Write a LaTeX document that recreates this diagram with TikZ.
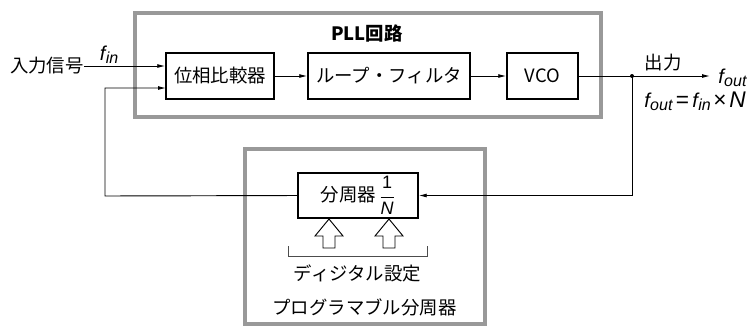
\documentclass[tikz,border=0pt]{standalone}
\usepackage{fontspec}
\setmainfont{Noto Sans CJK JP}
\newfontfamily\itf{Liberation Sans}
\usetikzlibrary{arrows.meta,calc}
\definecolor{framegray}{HTML}{999999}
\tikzset{
  frame/.style={draw=framegray,line width=3pt},
  blockbox/.style={draw,line width=1.1pt,minimum height=34.5pt,inner sep=0pt,font=\fontsize{13.8}{16}\selectfont},
  conn/.style={line width=0.7pt},
  arr/.style={conn,-{Latex[length=6pt,width=3pt]}},
  lbl/.style={inner sep=0pt,font=\fontsize{13.8}{16}\selectfont},
  hollow/.style={draw,line width=0.7pt,fill=white,line join=miter}
}
\newcommand{\fsub}[1]{{\itf\itshape\fontsize{15}{18}\selectfont f\kern0.3pt\raisebox{-0.3ex}{\fontsize{12}{14}\selectfont #1}}}
\begin{document}
\begin{tikzpicture}[x=0.75pt,y=-0.75pt]
\useasboundingbox (0,0) rectangle (753,326);
% frames
\draw[frame] (134.5,13) rectangle (601,117);
\draw[frame] (244.5,149) rectangle (485,323.5);
\node[lbl,font=\fontsize{13.8}{16}\selectfont\bfseries] (title) at (367,33) {PLL回路};
% blocks
\node[blockbox,minimum width=81pt] (pc) at (220,76) {位相比較器};
\node[blockbox,minimum width=121.5pt] (lf) at (389,76) {ループ・フィルタ};
\node[blockbox,minimum width=53.25pt] (vco) at (542.5,76) {VCO};
\node[blockbox,minimum width=90pt,minimum height=33.75pt] (div) at (358,195.5) {分周器\,$\displaystyle\frac{\mbox{\fontsize{13.5}{14}\selectfont\itf 1}}{\mbox{\fontsize{13.5}{14}\selectfont\itf\itshape N}}$};
% labels
\node[lbl,anchor=east] (in) at (84,66) {入力信号};
\node[lbl] (finlbl) at (109,55) {\fsub{in}};
\node[lbl] (outlbl) at (663,63) {出力};
\node[lbl,anchor=west] (foutlbl) at (718,78) {\fsub{out}};
\node[lbl,anchor=west] (eq) at (644,101) {\fsub{out}\kern2.5pt{\itf\fontsize{17}{18}\selectfont =}\kern2.5pt\fsub{in}\kern2pt{\itf\fontsize{17}{18}\selectfont ×\kern2pt\itshape N}};
\node[lbl] (dig) at (357.5,273) {ディジタル設定};
\node[lbl] (prog) at (364.5,307) {プログラマブル分周器};
% coordinates
\coordinate (pcin2) at (166,88);
\coordinate (fbc) at (105,196);
\coordinate (junc) at (632,76);
\coordinate (outend) at (710,76);
% connectors
\draw[arr] (in.east) -- (in.east -| pc.west);
\draw[arr] (pc) -- (lf);
\draw[arr] (lf) -- (vco);
\draw[arr] (vco.east) -- (outend);
\fill (junc) circle (2);
\draw[arr] (junc) |- (div.east);
\draw[arr] (div.west) -- (fbc) |- (pcin2);
% hollow arrows
\foreach \cx in {329,389}{
  \draw[hollow] (\cx,219) -- (\cx+14,236) -- (\cx+6,236) -- (\cx+6,248) -- (\cx-6,248) -- (\cx-6,236) -- (\cx-14,236) -- cycle;
}
% bracket
\draw[conn,draw=black!70] (288,246) -- (288,256) -- (427,256) -- (427,246);
\end{tikzpicture}
\end{document}
